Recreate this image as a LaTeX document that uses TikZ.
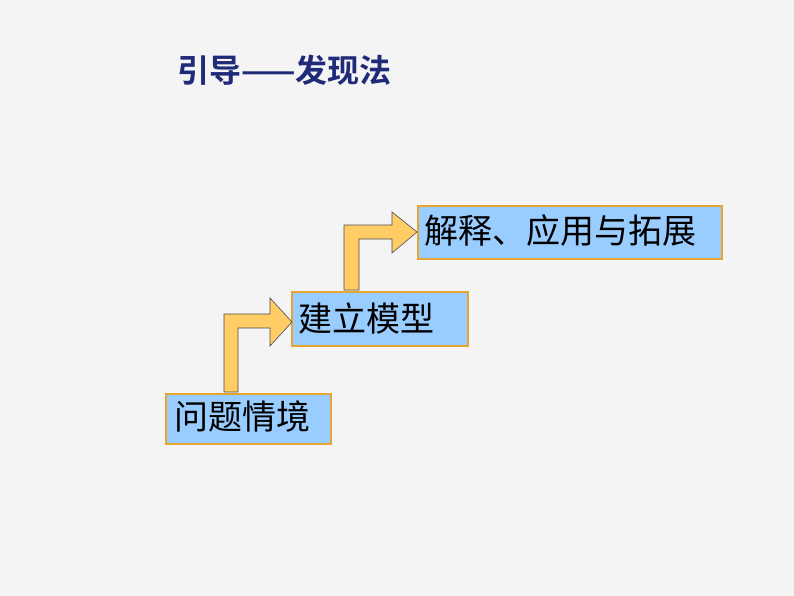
\documentclass[tikz,border=0pt]{standalone}
\usepackage{fontspec}
\newfontfamily\cjk{Noto Sans CJK SC}
\newfontfamily\cjkbold{Noto Sans CJK SC Bold}
\usetikzlibrary{positioning}
\definecolor{bgcol}{HTML}{F4F4F4}
\definecolor{boxfill}{HTML}{99CCFF}
\definecolor{boxline}{HTML}{E6A530}
\definecolor{arrowfill}{HTML}{FFCC66}
\definecolor{titlecol}{HTML}{1F2A78}
\tikzset{
  stepbox/.style={rectangle, draw=boxline, fill=boxfill, line width=1.5pt, inner sep=0pt, anchor=north west},
  steplbl/.style={anchor=west, inner sep=0pt, font=\cjk\fontsize{34}{34}\selectfont},
  bentarrow/.style={draw=black!70, fill=arrowfill, line width=0.6pt}
}
\begin{document}
\begin{tikzpicture}[x=1pt,y=-1pt]
  \fill[bgcol] (0,0) rectangle (794,596);
  \useasboundingbox (0,0) rectangle (794,596);
  % title
  \node[text=titlecol, font=\cjkbold\fontsize{32}{32}\selectfont, anchor=west, inner sep=0pt] (title) at (177,70)
    {\pgfsetfillopacity{1}引导——发现法};
  % steps
  \node[stepbox, minimum width=165, minimum height=50] (box1) at (165,393) {};
  \node[steplbl] (lbl1) at (174,417) {问题情境};
  \node[stepbox, minimum width=176, minimum height=54] (box2) at (291,291) {};
  \node[steplbl] (lbl2) at (298,318) {建立模型};
  \node[stepbox, minimum width=304, minimum height=53] (box3) at (417,205) {};
  \node[steplbl] (lbl3) at (424,231) {解释、应用与拓展};
  % bent arrows
  \draw[bentarrow] (224,392) -- (224,314) -- (270,314) -- (270,298) -- (292,322)
    -- (270,346) -- (270,328) -- (238,328) -- (238,392) -- cycle;
  \draw[bentarrow] (344,290) -- (344,225) -- (392,225) -- (392,212) -- (417,232)
    -- (392,253) -- (392,239) -- (359,239) -- (359,290) -- cycle;
\end{tikzpicture}
\end{document}
